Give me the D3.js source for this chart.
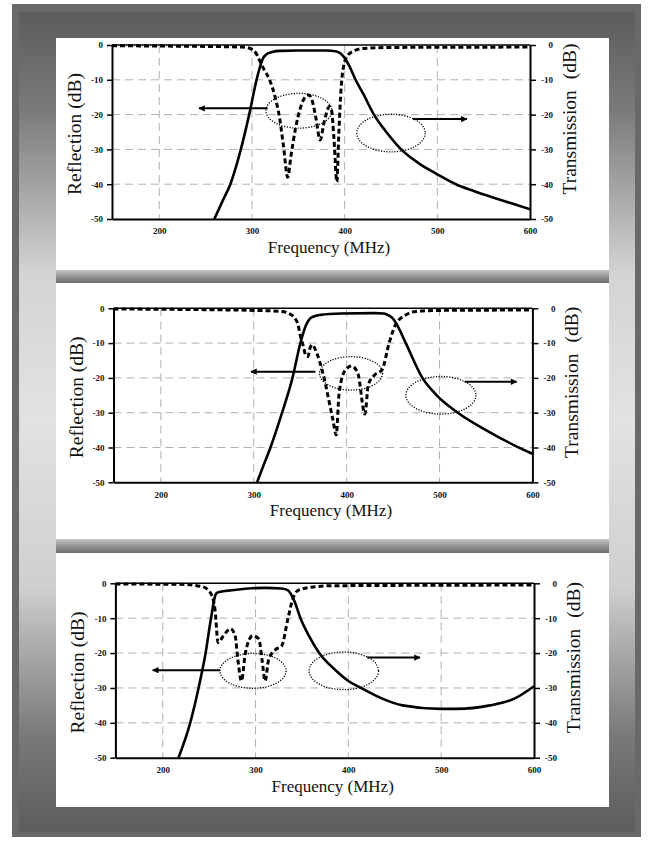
<!DOCTYPE html>
<html>
<head>
<meta charset="utf-8">
<script src="https://cdn.jsdelivr.net/npm/d3@7"></script>
<style>
  body { margin: 0; background: #fff; }
  svg { display: block; }
  .tick text { font-family: "Liberation Serif", "Times New Roman", serif; font-weight: bold; font-size: 9px; }
  .title { font-family: "Liberation Serif", "Times New Roman", serif; fill: #111; }
</style>
</head>
<body>
<svg width="649" height="841"></svg>
<script>
// axis ticks shared by all three panels
var xTicks = [200, 300, 400, 500, 600];
var yTicks = [0, -10, -20, -30, -40, -50];
var freqDomain = [149, 600];
var dbDomain = [-50, 0];

// panel 1 : transmission (solid) and reflection (dashed), [MHz, dB]
var s21A = [[259.4,-50],[268,-45],[276.7,-40],[288,-30],[297,-20],[305,-10],[309,-6],[311.6,-4],[316,-2.6],
  [322,-2],[330,-1.7],[350,-1.6],[380,-1.6],[390,-1.8],[396,-2.5],[400,-3.7],[405,-6],[411.8,-10],[420,-14],
  [431.6,-20],[445,-25],[461,-30],[480,-34],[499,-37],[520,-40],[540,-42],[560,-43.8],[580,-45.5],[600,-47.2]];
var s11A = [[149,-0.2],[200,-0.3],[250,-0.4],[290,-0.6],[298,-1],[304,-2.2],[308,-4.3],[313,-7],[319,-10],
  [325,-15],[329.6,-20.6],[334,-29],[338.6,-38],[342,-32],[347,-24],[353,-17.5],[358,-14.8],[361.4,-14.4],
  [365,-16],[369,-21],[373.6,-27.3],[378,-22],[383.7,-17.7],[386,-19],[388.5,-27],[391.6,-39.3],[393.8,-25],
  [396.3,-12],[399,-6],[403.5,-2.9],[410,-1.7],[419.8,-1],[450,-0.7],[600,-0.6]];

// panel 2
var s21B = [[303.6,-50],[310,-45.5],[318,-40],[330.5,-30],[341.7,-20],[350.2,-10],[356,-5],[360.5,-3],
  [366,-2.2],[371.7,-1.9],[394,-1.5],[430,-1.4],[440,-1.5],[445,-2],[450,-3],[454.7,-5],[463.7,-10],
  [481.6,-20],[497,-25],[519.7,-30],[550,-35],[580,-39.3],[600,-41.8]];
var s11B = [[149,-0.2],[250,-0.4],[300,-0.6],[330,-0.9],[338,-1.5],[344.8,-3],[348,-5],[350.2,-8],[353,-10.5],
  [356,-13.5],[358.3,-13.9],[360.5,-11.5],[362.8,-10.5],[368,-13],[374,-18.2],[385.2,-32],[388.8,-36.4],
  [391.9,-24.4],[398.7,-17.7],[405.4,-16.6],[412.1,-18.7],[419.7,-30.4],[423.3,-22],[430,-19.2],[438.1,-17.7],
  [445.7,-10],[452.5,-4.8],[463.7,-1.9],[474.9,-0.9],[500,-0.6],[600,-0.5]];

// panel 3
var s21C = [[217,-50],[229.6,-40],[238.6,-30],[246.2,-20],[252,-10],[257.4,-3],[261,-2.5],[274.4,-2],
  [292.4,-1.5],[310.3,-1.3],[328.3,-1.5],[335,-2],[341.7,-5],[348.4,-10],[357.4,-15],[368.6,-20],[386.5,-25],
  [400,-28],[413.5,-30],[435.9,-33],[458.3,-35],[498.7,-36],[516.6,-36],[552.5,-35],[579.4,-33],[600,-29.5]];
var s11C = [[149,-0.2],[220,-0.3],[243,-1],[252,-3],[256.5,-8],[259.6,-17],[265.5,-15],[273,-13],[278,-15],
  [281,-22],[284.8,-28],[289,-20],[296.9,-15],[303.6,-16],[307,-22],[310.3,-28],[314,-22],[321.5,-19],
  [328,-18],[335,-10],[339.5,-5],[346,-2],[364,-1],[382,-0.7],[600,-0.5]];

// dotted ellipses [centre MHz, centre dB, radius MHz, radius dB]
var ellA = [[350.6,-18.9,35.6,5.0],[450,-25.3,36.9,5.4]];
var ellB = [[404.7,-18.7,33.9,4.8],[501.5,-25,37.7,5.4]];
var ellC = [[297.3,-25.1,35.6,5.0],[395.1,-25.1,37.4,5.4]];
// arrows [from MHz, to MHz, dB]
var arrA = [[316.9,242.9,-18.2],[473.7,531.9,-21.3]];
var arrB = [[366.4,297,-18.2],[527.1,583,-21.1]];
var arrC = [[261.7,189.2,-24.9],[420.3,477.2,-21.3]];

var svg = d3.select("svg");
var defs = svg.append("defs");

var side = defs.append("linearGradient").attr("id", "side")
  .attr("x1", 0).attr("y1", 0).attr("x2", 0).attr("y2", 1);
side.append("stop").attr("offset", "0%").attr("stop-color", "#5c5c5c");
side.append("stop").attr("offset", "12%").attr("stop-color", "#7a7a7a");
side.append("stop").attr("offset", "32%").attr("stop-color", "#d4d4d4");
side.append("stop").attr("offset", "50%").attr("stop-color", "#e2e2e2");
side.append("stop").attr("offset", "70%").attr("stop-color", "#cfcfcf");
side.append("stop").attr("offset", "88%").attr("stop-color", "#7a7a7a");
side.append("stop").attr("offset", "100%").attr("stop-color", "#5c5c5c");

var bar = defs.append("linearGradient").attr("id", "bar")
  .attr("x1", 0).attr("y1", 0).attr("x2", 0).attr("y2", 1);
bar.append("stop").attr("offset", "0%").attr("stop-color", "#c4c4c4");
bar.append("stop").attr("offset", "45%").attr("stop-color", "#9a9a9a");
bar.append("stop").attr("offset", "100%").attr("stop-color", "#6c6c6c");

defs.append("marker").attr("id", "head")
  .attr("viewBox", "0 0 10 10").attr("refX", 9).attr("refY", 5)
  .attr("markerWidth", 4.5).attr("markerHeight", 3.2).attr("orient", "auto")
  .attr("markerUnits", "strokeWidth")
  .append("path").attr("d", "M0,0 L10,5 L0,10 z").attr("fill", "#000");

// frame
svg.append("rect").attr("x", 12).attr("y", 4).attr("width", 629).attr("height", 833).attr("fill", "#696969");
svg.append("rect").attr("x", 19).attr("y", 12).attr("width", 616).attr("height", 820).attr("fill", "url(#side)");

var whites = [[38, 232], [283, 256], [553, 254]];
whites.forEach(function(w) {
  svg.append("rect").attr("x", 56).attr("y", w[0]).attr("width", 553).attr("height", w[1]).attr("fill", "#fff");
});
[[270, 13], [539, 14]].forEach(function(b) {
  svg.append("rect").attr("x", 56).attr("y", b[0]).attr("width", 553).attr("height", b[1]).attr("fill", "url(#bar)");
});

var panels = [
  {top: 45, bottom: 219, left: 112, right: 530, s21: s21A, s11: s11A, ell: ellA, arr: arrA},
  {top: 308.3, bottom: 482.3, left: 113.5, right: 532.4, s21: s21B, s11: s11B, ell: ellB, arr: arrB},
  {top: 583.3, bottom: 757.7, left: 115.4, right: 534, s21: s21C, s11: s11C, ell: ellC, arr: arrC}
];

panels.forEach(function(p, i) {
  var x = d3.scaleLinear().domain(freqDomain).range([p.left, p.right]);
  var y = d3.scaleLinear().domain(dbDomain).range([p.bottom, p.top]);
  var g = svg.append("g");

  defs.append("clipPath").attr("id", "clip" + i)
    .append("rect").attr("x", p.left).attr("y", p.top - 3)
    .attr("width", p.right - p.left).attr("height", p.bottom - p.top + 3);

  // grid
  g.selectAll(".vg").data(xTicks.slice(0, -1)).enter().append("line")
    .attr("x1", function(d) { return x(d); }).attr("x2", function(d) { return x(d); })
    .attr("y1", p.top).attr("y2", p.bottom)
    .attr("stroke", "#a8a8a8").attr("stroke-width", 0.9).attr("stroke-dasharray", "8,5");
  g.selectAll(".hg").data(yTicks.slice(1, -1)).enter().append("line")
    .attr("x1", p.left).attr("x2", p.right)
    .attr("y1", function(d) { return y(d); }).attr("y2", function(d) { return y(d); })
    .attr("stroke", "#a8a8a8").attr("stroke-width", 0.9).attr("stroke-dasharray", "8,5");

  // axes
  var fmt = function(d) { return String(d); };
  var la = g.append("g").attr("transform", "translate(" + p.left + ",0)")
    .call(d3.axisLeft(y).tickValues(yTicks).tickSize(5).tickSizeOuter(0).tickPadding(4).tickFormat(fmt));
  var ra = g.append("g").attr("transform", "translate(" + p.right + ",0)")
    .call(d3.axisRight(y).tickValues(yTicks).tickSize(6).tickSizeOuter(0).tickFormat(fmt));
  ra.selectAll("text").attr("x", 23).attr("text-anchor", "end");
  var ba = g.append("g").attr("transform", "translate(0," + p.bottom + ")")
    .call(d3.axisBottom(x).tickValues(xTicks).tickSize(0).tickSizeOuter(0).tickPadding(9).tickFormat(fmt));
  [la, ra, ba].forEach(function(a) {
    a.select(".domain").attr("stroke-width", 2);
    a.selectAll(".tick line").attr("stroke-width", 1.5);
    a.selectAll("text").attr("fill", "#111");
  });
  g.append("line").attr("x1", p.left).attr("x2", p.right).attr("y1", p.top).attr("y2", p.top)
    .attr("stroke", "#000").attr("stroke-width", 1.5);

  // curves
  var line = d3.line().x(function(d) { return x(d[0]); }).y(function(d) { return y(d[1]); })
    .curve(d3.curveMonotoneX);
  var cg = g.append("g").attr("clip-path", "url(#clip" + i + ")");
  cg.append("path").attr("d", line(p.s21)).attr("fill", "none")
    .attr("stroke", "#000").attr("stroke-width", 2.6);
  cg.append("path").attr("d", line(p.s11)).attr("fill", "none")
    .attr("stroke", "#000").attr("stroke-width", 3).attr("stroke-dasharray", "5,3");

  // annotations
  g.selectAll(".ell").data(p.ell).enter().append("ellipse")
    .attr("cx", function(d) { return x(d[0]); }).attr("cy", function(d) { return y(d[1]); })
    .attr("rx", function(d) { return x(d[0] + d[2]) - x(d[0]); })
    .attr("ry", function(d) { return y(d[1]) - y(d[1] + d[3]); })
    .attr("fill", "none").attr("stroke", "#000").attr("stroke-width", 1.3).attr("stroke-dasharray", "1.2,1.5");
  g.selectAll(".arr").data(p.arr).enter().append("line")
    .attr("x1", function(d) { return x(d[0]); }).attr("x2", function(d) { return x(d[1]); })
    .attr("y1", function(d) { return y(d[2]); }).attr("y2", function(d) { return y(d[2]); })
    .attr("stroke", "#000").attr("stroke-width", 2).attr("marker-end", "url(#head)");

  // titles
  var cy = (p.top + p.bottom) / 2;
  g.append("text").attr("class", "title")
    .attr("transform", "translate(" + (p.left - 31) + "," + (cy + 2) + ") rotate(-90)")
    .attr("text-anchor", "middle").style("font-size", "19.5px").text("Reflection (dB)");
  var tt = g.append("text").attr("class", "title")
    .attr("transform", "translate(" + (p.right + 46) + "," + (cy - 13) + ") rotate(-90)")
    .attr("text-anchor", "middle").style("font-size", "19.5px");
  tt.append("tspan").text("Transmission");
  tt.append("tspan").attr("dx", 11).text("(dB)");
  g.append("text").attr("class", "title")
    .attr("x", (p.left + p.right) / 2 + 8).attr("y", p.bottom + 34)
    .attr("text-anchor", "middle").style("font-size", "17px").text("Frequency (MHz)");
});
</script>
</body>
</html>
